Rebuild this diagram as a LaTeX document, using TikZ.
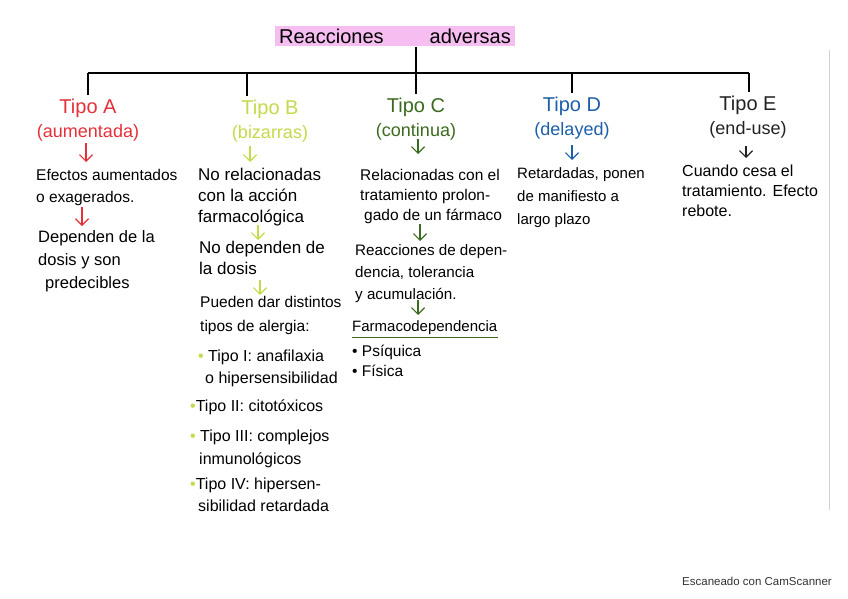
\documentclass[tikz,border=0pt]{standalone}
\usepackage{fontspec}
\setmainfont{Liberation Sans}
\usetikzlibrary{arrows.meta,calc}
\definecolor{cA}{HTML}{E5303A}
\definecolor{cB}{HTML}{C6D94A}
\definecolor{cC}{HTML}{3B6B1F}
\definecolor{cD}{HTML}{1D5FA8}
\definecolor{cE}{HTML}{222222}
\definecolor{pinkbox}{HTML}{F6BDF1}
\newcommand{\tipoline}[1]{{\fontsize{20}{24}\selectfont #1}}
\tikzset{
  title/.style={align=center,inner sep=0pt,font=\fontsize{18}{24}\selectfont},
  body/.style={align=left,inner sep=0pt,anchor=north west,font=\fontsize{15.5}{22}\selectfont},
  tree/.style={line width=1.4pt,black},
  arr/.style={line width=1.2pt,-{Straight Barb[length=6.5pt,width=13pt,line width=1.2pt]}},
}
\begin{document}
\begin{tikzpicture}[x=1pt,y=-1pt]
\useasboundingbox (0,0) rectangle (848,599);
\fill[white] (0,0) rectangle (848,599);
% faint page edge
\draw[gray!35,line width=0.6pt] (829,50) -- (829,510);
% root
\node[fill=pinkbox,inner xsep=4pt,inner ysep=3pt,font=\fontsize{20}{22}\selectfont] (R) at (395,36) {Reacciones\hspace{46pt}adversas};
% tree
\coordinate (jA) at (88,73);
\coordinate (jB) at (247,73);
\coordinate (jC) at (416,73);
\coordinate (jD) at (572,73);
\coordinate (jE) at (749,73);
\draw[tree] (jC |- R.south) -- (jC);
\draw[tree] (jA) -- (jE);
% titles
\node[title,text=cA] (tA) at (88,120) {\tipoline{Tipo A}\\(aumentada)};
\node[title,text=cB] (tB) at (270,121) {\tipoline{Tipo B}\\(bizarras)};
\node[title,text=cC] (tC) at (416,119) {\tipoline{Tipo C}\\(continua)};
\node[title,text=cD] (tD) at (572,118) {\tipoline{Tipo D}\\(delayed)};
\node[title,text=cE] (tE) at (748,117) {\tipoline{Tipo E}\\(end-use)};
\draw[tree] (jA) -- ($(jA |- tA.north)+(0,-4)$);
\draw[tree] (jB) -- ($(jB |- tB.north)+(0,-4)$);
\draw[tree] (jC) -- ($(jC |- tC.north)+(0,-4)$);
\draw[tree] (jD) -- ($(jD |- tD.north)+(0,-4)$);
\draw[tree] (jE) -- ($(jE |- tE.north)+(0,-4)$);
% Tipo A
\node[body] (A1) at (36,169) {Efectos aumentados\\o exagerados.};
\node[body,font=\fontsize{16.5}{23}\selectfont] (A2) at (38,230) {Dependen de la\\dosis y son\\\hspace*{7pt}predecibles};
% Tipo B
\node[body,font=\fontsize{17}{21}\selectfont] (B1) at (198,168) {No relacionadas\\con la acción\\farmacológica};
\node[body,font=\fontsize{17}{21}\selectfont] (B2) at (199,241) {No dependen de\\la dosis};
\node[body,font=\fontsize{15.5}{24}\selectfont] (B3) at (200,296) {Pueden dar distintos\\tipos de alergia:};
\node[body,font=\fontsize{16}{22}\selectfont] (B4) at (198,350) {\textcolor{cB}{•} Tipo I: anafilaxia\\\hspace*{7pt}o hipersensibilidad};
\node[body,font=\fontsize{16}{22}\selectfont] (B5) at (190,400) {\textcolor{cB}{•}Tipo II: citotóxicos};
\node[body,font=\fontsize{16}{23}\selectfont] (B6) at (190,430) {\textcolor{cB}{•} Tipo III: complejos\\\hspace*{9pt}inmunológicos};
\node[body,font=\fontsize{16}{22}\selectfont] (B7) at (190,478) {\textcolor{cB}{•}Tipo IV: hipersen-\\\hspace*{8pt}sibilidad retardada};
% Tipo C
\node[body,font=\fontsize{15.5}{20}\selectfont] (C1) at (360,169) {Relacionadas con el\\tratamiento prolon-\\\hspace*{4pt}gado de un fármaco};
\node[body,font=\fontsize{15.2}{22}\selectfont] (C2) at (355,244) {Reacciones de depen-\\dencia, tolerancia\\y acumulación.};
\node[body,font=\fontsize{15}{22}\selectfont] (C3) at (352,320) {Farmacodependencia};
\draw[cC,line width=1pt] ($(C3.south west)+(0,3)$) -- ($(C3.south east)+(0,3)$);
\node[body,font=\fontsize{15.5}{20}\selectfont] (C4) at (352,345) {• Psíquica\\• Física};
% Tipo D
\node[body,font=\fontsize{15}{23}\selectfont] (D1) at (517,167) {Retardadas, ponen\\de manifiesto a\\largo plazo};
% Tipo E
\node[body,font=\fontsize{16}{20}\selectfont] (E1) at (682,165) {Cuando cesa el\\tratamiento. Efecto\\rebote.};
% arrows (title/previous block -> next block)
\draw[arr,cA] ($(A1.north west)+(50,-26)$) -- ($(A1.north west)+(50,-7)$);
\draw[arr,cA] ($(A2.north west)+(44,-23)$) -- ($(A2.north west)+(44,-4)$);
\draw[arr,cB] ($(B1.north west)+(52,-22)$) -- ($(B1.north west)+(52,-6)$);
\draw[arr,cB] ($(B2.north west)+(59,-16)$) -- ($(B2.north west)+(59,-1)$);
\draw[arr,cB] ($(B3.north west)+(60,-16)$) -- ($(B3.north west)+(60,-1)$);
\draw[arr,cC] ($(C1.north west)+(58,-30)$) -- ($(C1.north west)+(58,-15)$);
\draw[arr,cC] ($(C2.north west)+(65,-20)$) -- ($(C2.north west)+(65,-3)$);
\draw[arr,cC] ($(C3.north west)+(66,-20)$) -- ($(C3.north west)+(66,-5)$);
\draw[arr,cD] ($(D1.north west)+(55,-22)$) -- ($(D1.north west)+(55,-7)$);
\draw[arr,cE] ($(E1.north west)+(64,-19)$) -- ($(E1.north west)+(64,-7)$);
% footer
\node[anchor=base east,inner sep=0pt,text=black!80,font=\fontsize{11.5}{13}\selectfont] (F) at (832,585) {Escaneado con CamScanner};
\end{tikzpicture}
\end{document}
